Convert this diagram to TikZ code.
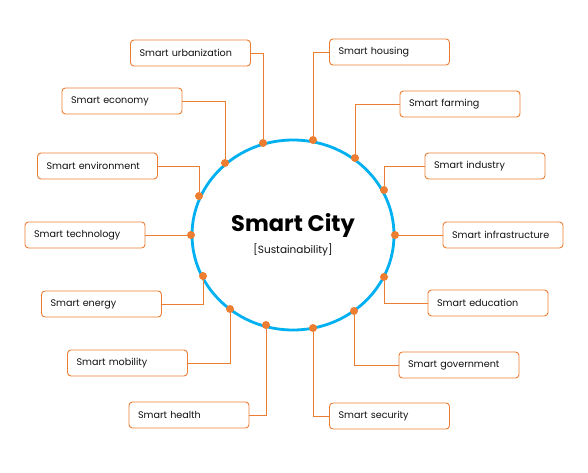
\documentclass[tikz,border=0pt]{standalone}
\usepackage{xcolor}
\definecolor{OrangeLine}{HTML}{ED7D31}
\definecolor{CityBlue}{HTML}{00B0F0}
\definecolor{TextDark}{HTML}{111111}
\usepackage{fontspec}
\setmainfont{Poppins}
\usepackage{tikz}
\usetikzlibrary{positioning}

\begin{document}
\begin{tikzpicture}[
  x=1pt, y=-1pt,
  box/.style={rectangle, rounded corners=3.5pt, draw=OrangeLine, fill=white, line width=0.9pt,
              minimum width=120pt, minimum height=26pt, text width=102pt, inner xsep=9pt,
              align=left, font=\fontsize{9.6}{11}\selectfont, text=TextDark},
  dot/.style={circle, fill=OrangeLine, inner sep=0pt, minimum size=8pt},
  link/.style={OrangeLine, line width=0.8pt}
]
  \useasboundingbox (0,0) rectangle (588,473);

  % ring and title
  \draw[CityBlue, line width=2.8pt] (293,235) ellipse (101 and 95);
  \node[font=\fontsize{22.5}{26}\selectfont\bfseries, text=black] (title) at (293,225) {Smart City};
  \node[font=\fontsize{10.5}{12}\selectfont, text=TextDark] (sub) at (293,250) {[Sustainability]};

  % dots on the ring
  \node[dot] (d-urban) at (263,143) {};
  \node[dot] (d-house) at (313,140) {};
  \node[dot] (d-farm)  at (355,158) {};
  \node[dot] (d-ind)   at (384,190) {};
  \node[dot] (d-infra) at (395,235) {};
  \node[dot] (d-edu)   at (384,277) {};
  \node[dot] (d-gov)   at (354,311) {};
  \node[dot] (d-sec)   at (313,328) {};
  \node[dot] (d-health) at (266,325) {};
  \node[dot] (d-mob)   at (230,309) {};
  \node[dot] (d-energy) at (203,276) {};
  \node[dot] (d-tech)  at (191,235) {};
  \node[dot] (d-env)   at (199,196) {};
  \node[dot] (d-econ)  at (225,163) {};

  % boxes
  \node[box] (urban)  at (190.5,53) {Smart urbanization};
  \node[box] (house)  at (389.5,52) {Smart housing};
  \node[box] (farm)   at (460,104)  {Smart farming};
  \node[box] (ind)    at (485,166)  {Smart industry};
  \node[box] (infra)  at (503,235)  {Smart infrastructure};
  \node[box] (edu)    at (488,303)  {Smart education};
  \node[box] (gov)    at (459,365)  {Smart government};
  \node[box] (sec)    at (389.5,416) {Smart security};
  \node[box] (health) at (189,415)  {Smart health};
  \node[box] (mob)    at (127.5,363) {Smart mobility};
  \node[box] (energy) at (101.5,304) {Smart energy};
  \node[box] (tech)   at (85,235)   {Smart technology};
  \node[box] (env)    at (97.5,166) {Smart environment};
  \node[box] (econ)   at (122,101)  {Smart economy};

  % connectors
  \draw[link] (urban.east) -| (d-urban);
  \draw[link] (house.west) -| (d-house);
  \draw[link] (farm.west) -| (d-farm);
  \draw[link] (ind.west) -| (d-ind);
  \draw[link] (d-infra) -- (infra.west);
  \draw[link] (d-edu) |- (edu.west);
  \draw[link] (d-gov) |- (gov.west);
  \draw[link] (d-sec) |- (sec.west);
  \draw[link] (health.east) -| (d-health);
  \draw[link] (mob.east) -| (d-mob);
  \draw[link] (energy.east) -| (d-energy);
  \draw[link] (tech.east) -- (d-tech);
  \draw[link] (env.east) -| (d-env);
  \draw[link] (econ.east) -| (d-econ);
\end{tikzpicture}
\end{document}
